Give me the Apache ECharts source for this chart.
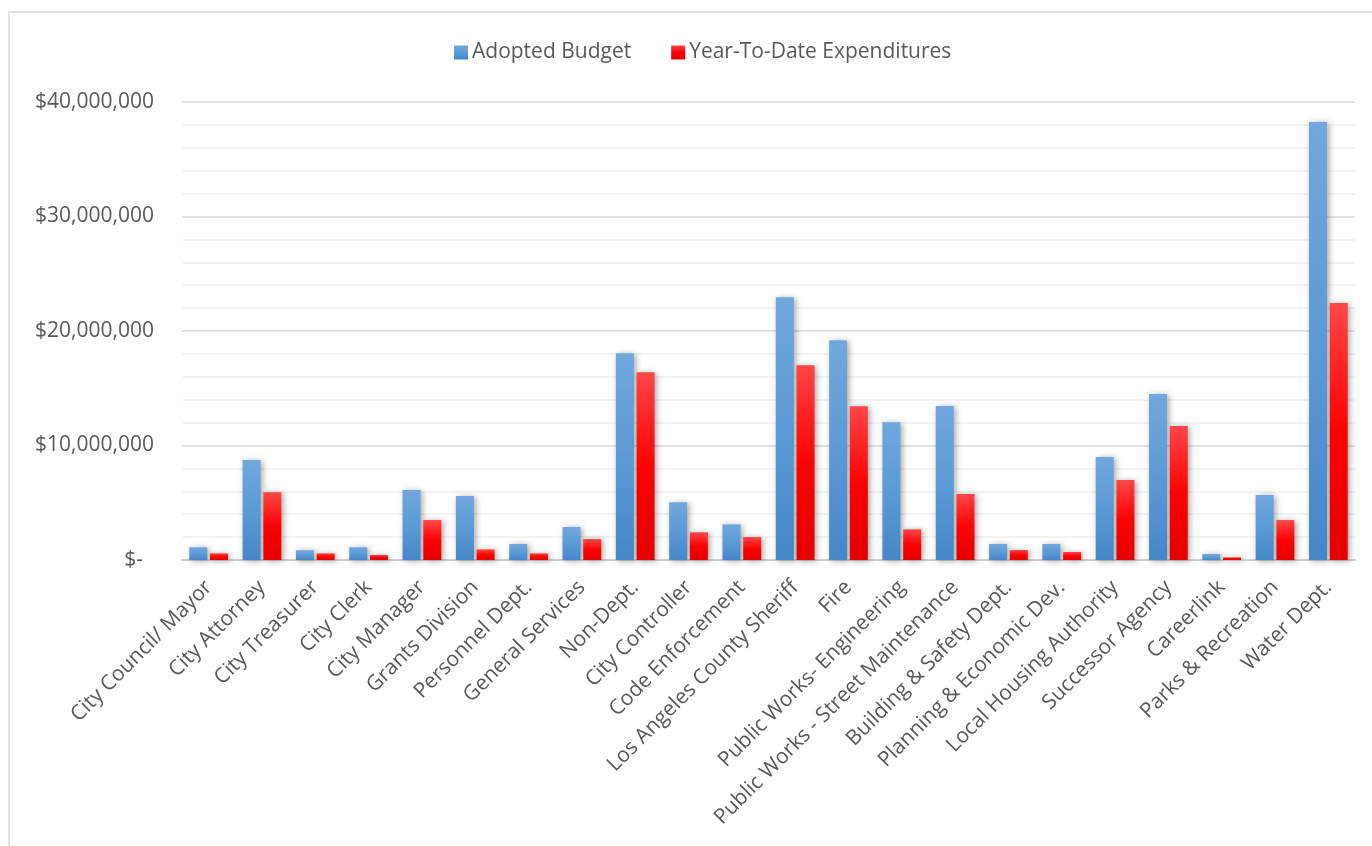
<!DOCTYPE html>
<html>
<head>
<meta charset="utf-8">
<script src="https://cdn.jsdelivr.net/npm/echarts@6/dist/echarts.min.js"></script>
<style>
html,body{margin:0;padding:0;background:#fff;}
#c{width:1372px;height:846px;}
</style>
</head>
<body>
<div id="c"></div>
<script>
const categories = ["City Council/ Mayor","City Attorney","City Treasurer","City Clerk","City Manager","Grants Division","Personnel Dept.","General Services","Non-Dept.","City Controller","Code Enforcement","Los Angeles County Sheriff","Fire","Public Works- Engineering","Public Works - Street Maintenance","Building & Safety Dept.","Planning & Economic Dev.","Local Housing Authority","Successor Agency","Careerlink","Parks & Recreation","Water Dept."];
const adoptedBudget = [1110000,8730000,850000,1110000,6110000,5590000,1400000,2880000,18050000,5040000,3110000,22940000,19200000,12030000,13450000,1400000,1400000,9000000,14500000,520000,5680000,38250000];
const ytdExpenditures = [580000,5910000,580000,440000,3490000,930000,580000,1830000,16400000,2420000,2000000,17000000,13420000,2680000,5760000,870000,700000,6990000,11700000,230000,3490000,22450000];
const seriesNames = ["Adopted Budget","Year-To-Date Expenditures"];
const yTicks = [0,10000000,20000000,30000000,40000000];

const chart = echarts.init(document.getElementById('c'));
const font = '"Open Sans", sans-serif';
const blueGrad = new echarts.graphic.LinearGradient(0,0,0,1,[{offset:0,color:'#72a7dd'},{offset:0.5,color:'#5b9bd5'},{offset:1,color:'#4587c7'}]);
const redGrad = new echarts.graphic.LinearGradient(0,0,0,1,[{offset:0,color:'#ff4747'},{offset:0.5,color:'#ff0000'},{offset:1,color:'#e40000'}]);
chart.setOption({
  backgroundColor:'#fff',
  animation:false,
  graphic:[{type:'rect',shape:{x:9,y:12,width:1400,height:900},style:{fill:'none',stroke:'#d9d9d9',lineWidth:1.5},silent:true}],
  legend:{
    data:seriesNames,
    left:449, top:37,
    itemWidth:14, itemHeight:14, itemGap:40,
    icon:'rect',
    textStyle:{fontFamily:font,fontSize:21,color:'#595959',padding:[0,0,0,-1]}
  },
  grid:{left:182,right:17,top:102,bottom:286,containLabel:false},
  xAxis:{
    type:'category',
    data:categories,
    axisTick:{show:false},
    axisLine:{show:true,lineStyle:{color:'#d0d0d0',width:2}},
    axisLabel:{rotate:45,interval:0,margin:24,fontFamily:font,fontSize:21,color:'#595959'}
  },
  yAxis:{
    type:'value',
    min:yTicks[0], max:yTicks[yTicks.length-1], interval:10000000,
    axisLine:{show:false},
    axisTick:{show:false},
    splitLine:{show:true,lineStyle:{color:'#d9d9d9',width:1.5}},
    minorTick:{show:false,splitNumber:5},
    minorSplitLine:{show:true,lineStyle:{color:'#f0f0f0',width:1.5}},
    axisLabel:{
      margin:28,fontFamily:font,fontSize:21,color:'#595959',
      formatter:function(v){ return v===0 ? '{z|$-}' : '$'+v.toLocaleString('en-US'); },
      rich:{z:{fontFamily:font,fontSize:21,color:'#595959',padding:[0,11,0,0]}}
    }
  },
  series:[
    {name:seriesNames[0],type:'bar',data:adoptedBudget,barWidth:18,barGap:'15%',
     itemStyle:{color:blueGrad,shadowBlur:6,shadowColor:'rgba(0,0,0,0.35)',shadowOffsetX:2,shadowOffsetY:1}},
    {name:seriesNames[1],type:'bar',data:ytdExpenditures,barWidth:18,barGap:'15%',
     itemStyle:{color:redGrad,shadowBlur:6,shadowColor:'rgba(0,0,0,0.35)',shadowOffsetX:2,shadowOffsetY:1}}
  ]
});
</script>
</body>
</html>
